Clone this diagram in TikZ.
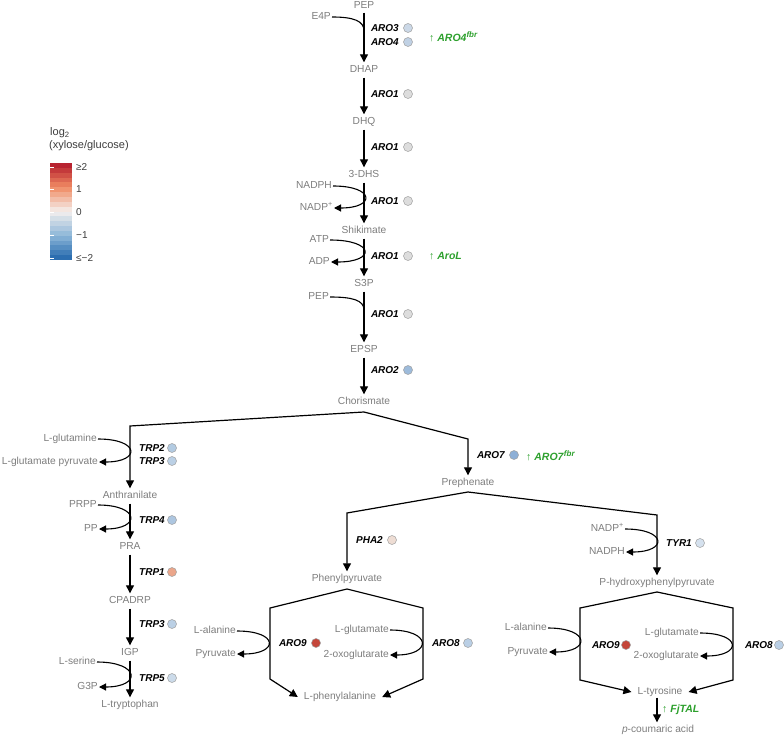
\documentclass[tikz,border=0pt]{standalone}
\usepackage{fontspec}
\setmainfont{Liberation Sans}
\usetikzlibrary{arrows.meta}
\definecolor{metc}{RGB}{125,125,125}
\definecolor{grn}{RGB}{45,160,45}
\definecolor{legc}{RGB}{60,60,60}
\definecolor{cb2}{HTML}{B2182B}
\definecolor{cb1}{HTML}{EF8A62}
\definecolor{cb0}{HTML}{F5F0EE}
\definecolor{cbm1}{HTML}{8CB6D8}
\definecolor{cbm2}{HTML}{2166AC}
\definecolor{cA}{HTML}{CBD8E7}
\definecolor{cB}{HTML}{C0D1E4}
\definecolor{cG}{HTML}{DDDDDD}
\definecolor{cC}{HTML}{9DBBDB}
\definecolor{cD}{HTML}{B3CBE2}
\definecolor{cE}{HTML}{BBD0E5}
\definecolor{cF}{HTML}{ADC6E0}
\definecolor{cH}{HTML}{EBA68B}
\definecolor{cI}{HTML}{CCDBEA}
\definecolor{cJ}{HTML}{8DAFD6}
\definecolor{cK}{HTML}{EEDDD4}
\definecolor{cL}{HTML}{D5E1EE}
\definecolor{cM}{HTML}{C4463A}
\definecolor{cN}{HTML}{BACFE5}
\newcommand\supfbr{\raisebox{4pt}{\fontsize{8}{9}\selectfont\bfseries\itshape fbr}}
\begin{document}
\begin{tikzpicture}[x=1pt,y=-1pt,
  met/.style={text=metc, font=\fontsize{10.2}{12}\selectfont, inner sep=1pt, text height=7pt, text depth=2pt},
  gene/.style={font=\fontsize{10}{12}\selectfont\bfseries\itshape, anchor=east, inner sep=0pt},
  dot/.style={circle, draw=gray!75, line width=0.5pt, minimum size=9pt, inner sep=0pt},
  rx/.style={line width=1.2pt, shorten <=2pt, shorten >=2pt, -{Triangle[width=8pt,length=8pt]}},
  sda/.style={line width=1.1pt, -{Triangle[width=7pt,length=7pt]}},
  sdl/.style={line width=1.1pt},
  note/.style={text=grn, font=\fontsize{10.5}{12}\selectfont, anchor=west, inner sep=0pt},
  legt/.style={text=legc, font=\fontsize{10}{12}\selectfont, anchor=west, inner sep=0pt}
]
\useasboundingbox (0,0) rectangle (784,738);

% ---------- legend ----------
\node[text=legc, font=\fontsize{11}{13}\selectfont, anchor=west, inner sep=0pt] (lg1) at (50,133) {log\textsubscript{2}};
\node[text=legc, font=\fontsize{11}{13}\selectfont, anchor=west, inner sep=0pt] (lg2) at (49,146) {(xylose/glucose)};
\foreach \s/\ca/\cb in {0/cb2/cb1,1/cb1/cb0,2/cb0/cbm1,3/cbm1/cbm2}{
  \foreach \k in {0,...,4}{
    \pgfmathtruncatemacro\p{90-20*\k}
    \pgfmathsetmacro\yy{163+(5*\s+\k)*4.85}
    \fill[\ca!\p!\cb] (50,\yy) rectangle (72,{\yy+4.95});
  }
}
\foreach \t in {167,189,212,235,258}{
  \draw[white, line width=0.6pt] (50,\t) -- (54,\t);
}
\node[legt] (l2) at (76,167) {≥2};
\node[legt] (l1) at (76,189) {1};
\node[legt] (l0) at (76,212) {0};
\node[legt] (lm1) at (76,235) {−1};
\node[legt] (lm2) at (76,258) {≤−2};

% ---------- main trunk ----------
\node[met] (pep) at (364,6.5) {PEP};
\node[met] (dhap) at (364,70) {DHAP};
\node[met] (dhq) at (364,122) {DHQ};
\node[met] (dhs) at (364,175) {3-DHS};
\node[met] (shk) at (364,231) {Shikimate};
\node[met] (s3p) at (364,284) {S3P};
\node[met] (epsp) at (364,350) {EPSP};
\node[met] (chor) at (364,402) {Chorismate};

\draw[rx,shorten <=0.5pt] (pep) -- (dhap);
\draw[rx] (dhap) -- (dhq);
\draw[rx] (dhq) -- (dhs);
\draw[rx] (dhs) -- (shk);
\draw[rx] (shk) -- (s3p);
\draw[rx] (s3p) -- (epsp);
\draw[rx] (epsp) -- (chor);

\node[met,anchor=east] (e4p) at (332,17) {E4P};
\coordinate (j1) at (364,31);
\draw[sdl] (e4p.east) .. controls +(22,0) and +(0,-10) .. (j1);

\node[met,anchor=east] (nadph) at (333,186) {NADPH};
\node[met,anchor=east] (nadp) at (334,208) {NADP\textsuperscript{+}};
\draw[sda] (nadph.east) .. controls +(42,0) and +(42,0) .. (nadp.east);

\node[met,anchor=east] (atp) at (330,240) {ATP};
\node[met,anchor=east] (adp) at (331,262) {ADP};
\draw[sda] (atp.east) .. controls +(45,0) and +(45,0) .. (adp.east);

\node[met,anchor=east] (pep2) at (330,297) {PEP};
\coordinate (j2) at (364,310);
\draw[sdl] (pep2.east) .. controls +(22,0) and +(0,-10) .. (j2);

% genes on trunk
\node[gene] (g1) at (399,28) {ARO3};  \node[dot,fill=cA] (d1) at (408,28) {};
\node[gene] (g2) at (399,42) {ARO4};  \node[dot,fill=cB] (d2) at (408,42) {};
\node[gene] (g3) at (399,94) {ARO1};  \node[dot,fill=cG] (d3) at (408,94) {};
\node[gene] (g4) at (399,147) {ARO1}; \node[dot,fill=cG] (d4) at (408,147) {};
\node[gene] (g5) at (399,201) {ARO1}; \node[dot,fill=cG] (d5) at (408,201) {};
\node[gene] (g6) at (399,256) {ARO1}; \node[dot,fill=cG] (d6) at (408,256) {};
\node[gene] (g7) at (399,314) {ARO1}; \node[dot,fill=cG] (d7) at (408,314) {};
\node[gene] (g8) at (399,370) {ARO2}; \node[dot,fill=cC] (d8) at (408,370) {};

\node[note] (n1) at (429,37) {↑ \textbf{\textit{ARO4}}\supfbr};
\node[note] (n2) at (429,256) {↑ \textbf{\textit{AroL}}};

% ---------- chorismate split ----------
\coordinate (cj) at (364,412);
\coordinate (cl) at (130,426);
\coordinate (cr) at (468,439);
\node[met] (anth) at (130,496) {Anthranilate};
\node[met] (preph) at (468,483) {Prephenate};
\draw[rx,shorten <=0pt] (cj) -- (cl) -- (anth);
\draw[rx,shorten <=0pt] (cj) -- (cr) -- (preph);

\node[gene] (g9) at (505,455) {ARO7}; \node[dot,fill=cJ] (d9) at (514,455) {};
\node[note] (n3) at (526,456) {↑ \textbf{\textit{ARO7}}\supfbr};

% ---------- tryptophan branch ----------
\node[met,anchor=east] (lgln) at (98,439) {L-glutamine};
\node[met,anchor=east] (lglp) at (99,462) {L-glutamate pyruvate};
\draw[sda] (lgln.east) .. controls +(42,0) and +(42,0) .. (lglp.east);
\node[gene] (g10) at (165,448) {TRP2}; \node[dot,fill=cD] (d10) at (172,448) {};
\node[gene] (g11) at (165,461) {TRP3}; \node[dot,fill=cE] (d11) at (172,461) {};

\node[met] (pra) at (130,547) {PRA};
\draw[rx] (anth) -- (pra);
\node[met,anchor=east] (prpp) at (98,505) {PRPP};
\node[met,anchor=east] (pp) at (99,529) {PP};
\draw[sda] (prpp.east) .. controls +(42,0) and +(42,0) .. (pp.east);
\node[gene] (g12) at (165,520) {TRP4}; \node[dot,fill=cF] (d12) at (172,520) {};

\node[met] (cpa) at (130,601) {CPADRP};
\draw[rx] (pra) -- (cpa);
\node[gene] (g13) at (165,572) {TRP1}; \node[dot,fill=cH] (d13) at (172,572) {};

\node[met] (igp) at (130,653) {IGP};
\draw[rx] (cpa) -- (igp);
\node[gene] (g14) at (165,624) {TRP3}; \node[dot,fill=cE] (d14) at (172,624) {};

\node[met] (trp) at (130,705) {L-tryptophan};
\draw[rx] (igp) -- (trp);
\node[met,anchor=east] (lser) at (97,662) {L-serine};
\node[met,anchor=east] (g3p) at (99,687) {G3P};
\draw[sda] (lser.east) .. controls +(43,0) and +(43,0) .. (g3p.east);
\node[gene] (g15) at (165,678) {TRP5}; \node[dot,fill=cI] (d15) at (172,678) {};

% ---------- prephenate split ----------
\coordinate (pj) at (468,492);
\coordinate (pl) at (347,513);
\coordinate (pr) at (657,515);
\node[met] (ppy) at (347,579) {Phenylpyruvate};
\node[met] (hpp) at (657,583) {P-hydroxyphenylpyruvate};
\draw[rx,shorten <=0pt] (pj) -- (pl) -- (ppy);
\draw[rx,shorten <=0pt] (pj) -- (pr) -- (hpp);

\node[gene] (g16) at (383,540) {PHA2}; \node[dot,fill=cK] (d16) at (392,540) {};

\node[met,anchor=east] (nadp2) at (625,529) {NADP\textsuperscript{+}};
\node[met,anchor=east] (nadph2) at (626,552) {NADPH};
\draw[sda] (nadp2.east) .. controls +(42,0) and +(42,0) .. (nadph2.east);
\node[gene] (g17) at (692,543) {TYR1}; \node[dot,fill=cL] (d17) at (700,543) {};

% ---------- phenylalanine hexagon ----------
\coordinate (a0) at (347,589);
\coordinate (a1) at (270,608);
\coordinate (a2) at (270,679);
\coordinate (a3) at (423,608);
\coordinate (a4) at (423,679);
\node[met, inner xsep=6pt] (phe) at (340,697) {L-phenylalanine};
\draw[rx,shorten <=0pt,shorten >=0pt] (a0) -- (a1) -- (a2) -- (phe.west);
\draw[rx,shorten <=0pt,shorten >=0pt] (a0) -- (a3) -- (a4) -- (phe.east);

\node[met,anchor=east] (ala1) at (237,631) {L-alanine};
\node[met,anchor=east] (pyr1) at (237,654) {Pyruvate};
\draw[sda] (ala1.east) .. controls +(42,0) and +(42,0) .. (pyr1.east);
\node[met,anchor=east] (glt1) at (390,630) {L-glutamate};
\node[met,anchor=east] (oxo1) at (390,655) {2-oxoglutarate};
\draw[sda] (glt1.east) .. controls +(42,0) and +(42,0) .. (oxo1.east);
\node[gene] (g18) at (307,643) {ARO9}; \node[dot,fill=cM] (d18) at (316,643) {};
\node[gene] (g19) at (460,643) {ARO8}; \node[dot,fill=cN] (d19) at (468,643) {};

% ---------- tyrosine hexagon ----------
\coordinate (b0) at (657,592);
\coordinate (b1) at (580,608);
\coordinate (b2) at (580,680);
\coordinate (b3) at (733,608);
\coordinate (b4) at (733,680);
\node[met, inner xsep=6pt] (tyr) at (660,692) {L-tyrosine};
\draw[rx,shorten <=0pt,shorten >=0pt] (b0) -- (b1) -- (b2) -- (tyr.west);
\draw[rx,shorten <=0pt,shorten >=0pt] (b0) -- (b3) -- (b4) -- (tyr.east);

\node[met,anchor=east] (ala2) at (548,628) {L-alanine};
\node[met,anchor=east] (pyr2) at (549,652) {Pyruvate};
\draw[sda] (ala2.east) .. controls +(42,0) and +(42,0) .. (pyr2.east);
\node[met,anchor=east] (glt2) at (700,633) {L-glutamate};
\node[met,anchor=east] (oxo2) at (700,656) {2-oxoglutarate};
\draw[sda] (glt2.east) .. controls +(42,0) and +(42,0) .. (oxo2.east);
\node[gene] (g20) at (620,645) {ARO9}; \node[dot,fill=cM] (d20) at (626,645) {};
\node[gene] (g21) at (773,645) {ARO8}; \node[dot,fill=cN] (d21) at (779,645) {};

\node[met] (pca) at (658,730) {\textit{p}-coumaric acid};
\draw[rx,shorten <=0pt] (tyr.south -| b0) -- (pca.north -| b0);
\node[note] (n4) at (662,710) {↑ \textbf{\textit{FjTAL}}};

\end{tikzpicture}
\end{document}
